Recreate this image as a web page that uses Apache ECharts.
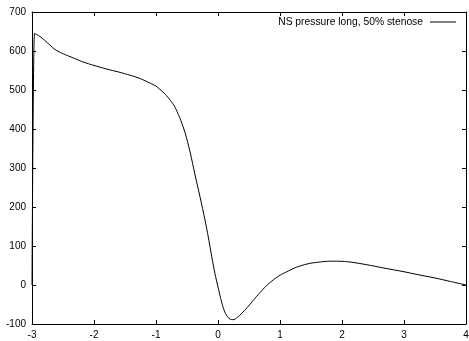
<!DOCTYPE html>
<html>
<head>
<meta charset="utf-8">
<script src="https://cdn.jsdelivr.net/npm/echarts@6/dist/echarts.min.js"></script>
<style>
html,body{margin:0;padding:0;background:#fff;}
#chart{width:469px;height:341px;}
</style>
</head>
<body>
<div id="chart"></div>
<script>
const seriesName = 'NS pressure long, 50% stenose';
const xValues = [-3, -2.96, -2.92, -2.87, -2.8, -2.71, -2.63, -2.54, -2.44, -2.3, -2.18, -2.0, -1.8, -1.6, -1.42, -1.25, -1.1, -1.0, -0.94, -0.85, -0.77, -0.7, -0.65, -0.6, -0.53, -0.45, -0.37, -0.29, -0.21, -0.16, -0.1, -0.05, 0.0, 0.04, 0.08, 0.12, 0.16, 0.2, 0.24, 0.28, 0.32, 0.38, 0.47, 0.57, 0.68, 0.78, 0.89, 1.0, 1.11, 1.24, 1.37, 1.5, 1.65, 1.8, 1.95, 2.13, 2.4, 2.66, 3.0, 3.21, 3.5, 3.75, 4.0];
const yValues = [0, 645, 642, 637, 628, 615, 604, 596, 589, 580, 572, 563, 554, 546, 538, 529, 518, 510, 502, 489, 474, 458, 441, 422, 390, 341, 282, 226, 167, 126, 72, 30, -5, -32, -56, -73, -83, -88, -89, -87, -82, -73, -58, -39, -19, -2, 13, 25, 34, 44, 51, 56, 59, 61, 61, 59, 52, 44, 34, 27, 18, 9, 0];
const xTicks = {min: -3, max: 4, interval: 1};
const yTicks = {min: -100, max: 700, interval: 100};

const chart = echarts.init(document.getElementById('chart'), null, {renderer: 'canvas'});
const font = {fontFamily: 'Liberation Sans', fontSize: 10, color: '#000'};
function axisCommon() {
  return {
    axisLine: {show: true, onZero: false, lineStyle: {color: '#000', width: 1}},
    axisTick: {show: true, inside: true, length: 4, lineStyle: {color: '#000', width: 1}},
    splitLine: {show: false}
  };
}
chart.setOption({
  animation: false,
  backgroundColor: '#fff',
  grid: {left: 32, right: 3, top: 12, bottom: 17, containLabel: false, outerBoundsMode: 'none'},
  legend: {
    show: true,
    right: 8, top: 6,
    align: 'right',
    itemWidth: 26, itemHeight: 1,
    icon: 'rect',
    itemStyle: {color: '#000'},
    textStyle: {fontFamily: 'Liberation Sans', fontSize: 10.3, color: '#000', padding: [0, 2, 0, 0], lineHeight: 22},
    data: [seriesName]
  },
  xAxis: [
    Object.assign({type: 'value', position: 'bottom', min: xTicks.min, max: xTicks.max, interval: xTicks.interval,
      axisLabel: Object.assign({margin: 6}, font)}, axisCommon()),
    Object.assign({type: 'value', position: 'top', min: xTicks.min, max: xTicks.max, interval: xTicks.interval,
      axisLabel: {show: false}}, axisCommon())
  ],
  yAxis: [
    Object.assign({type: 'value', position: 'left', min: yTicks.min, max: yTicks.max, interval: yTicks.interval,
      axisLabel: Object.assign({margin: 6}, font)}, axisCommon()),
    Object.assign({type: 'value', position: 'right', min: yTicks.min, max: yTicks.max, interval: yTicks.interval,
      axisLabel: {show: false}}, axisCommon())
  ],
  series: [{
    name: seriesName,
    type: 'line',
    data: xValues.map((x, i) => [x, yValues[i]]),
    showSymbol: false,
    symbol: 'none',
    smooth: 0.25,
    lineStyle: {color: '#000', width: 1},
    itemStyle: {color: '#000'}
  }]
});
</script>
</body>
</html>
